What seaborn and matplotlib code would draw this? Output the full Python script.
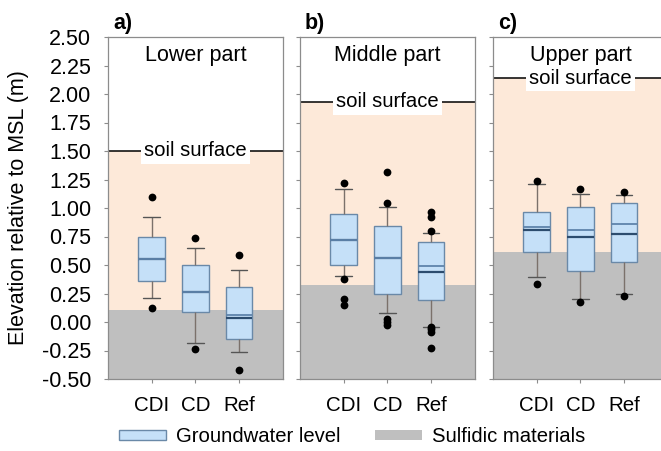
import numpy as np
import pandas as pd
import matplotlib
matplotlib.use("Agg")
import matplotlib.pyplot as plt
import matplotlib.transforms as mtransforms
from matplotlib.patches import Patch
import seaborn as sns

# ---------------- data ----------------
categories = ["CDI", "CD", "Ref"]
panel_labels = ["a)", "b)", "c)"]
panel_titles = ["Lower part", "Middle part", "Upper part"]
soil_surface = [1.50, 1.93, 2.14]
sulfidic_level = [0.105, 0.325, 0.61]

# box statistics per panel: [CDI, CD, Ref]
whisker_low = [[0.21, -0.18, -0.26], [0.405, 0.075, -0.04], [0.395, 0.20, 0.25]]
quartile_1 = [[0.36, 0.085, -0.15], [0.50, 0.245, 0.19], [0.617, 0.45, 0.53]]
median = [[0.555, 0.265, 0.035], [0.72, 0.565, 0.435], [0.805, 0.745, 0.77]]
quartile_3 = [[0.745, 0.50, 0.31], [0.945, 0.84, 0.70], [0.968, 1.005, 1.04]]
whisker_high = [[0.925, 0.645, 0.455], [1.165, 1.01, 0.785], [1.21, 1.125, 1.115]]
mean = [[0.555, 0.265, 0.065], [0.72, 0.565, 0.495], [0.835, 0.81, 0.86]]
outliers = [
    [[1.10, 0.12], [0.74, -0.235], [0.59, -0.425]],
    [[1.215, 0.375, 0.20, 0.15], [1.32, 1.04, 0.03, 0.0, -0.03],
     [0.965, 0.92, 0.80, -0.04, -0.065, -0.09, -0.225]],
    [[1.24, 0.33], [1.167, 0.178], [1.14, 0.228]],
]

y_limits = [-0.5, 2.5]
yticks = [-0.5, -0.25, 0.0, 0.25, 0.5, 0.75, 1.0, 1.25, 1.5, 1.75, 2.0, 2.25, 2.5]
ytick_labels = ["-0.50", "-0.25", "0.00", "0.25", "0.50", "0.75", "1.00",
                "1.25", "1.50", "1.75", "2.00", "2.25", "2.50"]
y_label = "Elevation relative to MSL (m)"
legend_labels = ["Groundwater level", "Sulfidic materials"]

# ---------------- style ----------------
sns.set_style("ticks")
plt.rcParams["font.family"] = ["Liberation Sans", "DejaVu Sans"]
plt.rcParams["text.color"] = "black"

box_fill = "#c5e0f8"
box_edge = "#6a89a8"
median_color = "#2c4c6e"
mean_color = "#5f84ab"
whisker_color = "#7b716b"
cap_color = "#555555"
peach = "#fde9d9"
gray = "#bfbfbf"
spine_color = "#8c8c8c"

W, H = 661, 451
fig = plt.figure(figsize=(W / 100, H / 100), dpi=100)
lefts_px = [108, 300, 493]
ax_w_px = 174.8
ax_bottom = (H - 379) / H
ax_h = 342 / H

box_width = 0.61
cap_width = 0.38

for i in range(3):
    ax = fig.add_axes([lefts_px[i] / W, ax_bottom, ax_w_px / W, ax_h])

    # background zones
    ax.axhspan(y_limits[0], sulfidic_level[i], color=gray, lw=0, zorder=0)
    ax.axhspan(sulfidic_level[i], soil_surface[i], color=peach, lw=0, zorder=0)

    # boxes
    rows = []
    for j, c in enumerate(categories):
        for v in (whisker_low[i][j], quartile_1[i][j], median[i][j],
                  quartile_3[i][j], whisker_high[i][j]):
            rows.append({"site": c, "value": v})
    df_box = pd.DataFrame(rows)
    sns.boxplot(data=df_box, x="site", y="value", order=categories,
                whis=(0, 100), width=box_width, color=box_fill, saturation=1,
                linecolor=box_edge, linewidth=1.0, showfliers=False,
                boxprops=dict(edgecolor=box_edge, linewidth=1.0, zorder=2),
                medianprops=dict(color=median_color, linewidth=1.6, zorder=3),
                whiskerprops=dict(color=whisker_color, linewidth=1.0, zorder=2),
                capprops=dict(color=cap_color, linewidth=1.0, zorder=2),
                ax=ax)

    # widen caps
    for ln in ax.lines:
        xd = np.asarray(ln.get_xdata(), dtype=float)
        yd = np.asarray(ln.get_ydata(), dtype=float)
        if len(xd) == 2 and yd[0] == yd[1]:
            wdt = abs(xd[1] - xd[0])
            if abs(wdt - 0.5 * box_width) < 1e-6:
                cx = xd.mean()
                ln.set_xdata([cx - cap_width / 2, cx + cap_width / 2])

    # mean lines
    pos = np.arange(len(categories))
    ax.hlines(mean[i], pos - box_width / 2, pos + box_width / 2,
              colors=mean_color, linewidth=1.3, zorder=3)

    # outliers
    orow = []
    for j, c in enumerate(categories):
        for v in outliers[i][j]:
            orow.append({"site": c, "value": v})
    df_out = pd.DataFrame(orow)
    sns.stripplot(data=df_out, x="site", y="value", order=categories,
                  jitter=False, color="black", size=5.6, linewidth=0,
                  ax=ax, zorder=4)

    # soil surface line + label
    ax.axhline(soil_surface[i], color="black", lw=1.1, zorder=1.5)
    trans = mtransforms.blended_transform_factory(ax.transAxes, ax.transData)
    ax.text(0.5, soil_surface[i], "soil surface", transform=trans,
            ha="center", va="center", fontsize=14.6, zorder=5,
            bbox=dict(facecolor="white", edgecolor="none", pad=2.2))

    # title and panel label
    ax.text(0.5, 0.945, panel_titles[i], transform=ax.transAxes,
            ha="center", va="center", fontsize=15.5)
    ax.text(5 / ax_w_px, 1 + 14 / 342, panel_labels[i], transform=ax.transAxes,
            ha="left", va="center", fontsize=15.5, fontweight="bold")

    ax.set_xlim(-1, 3)
    ax.set_ylim(*y_limits)
    ax.set_xlabel("")
    ax.set_ylabel("")
    ax.set_yticks(yticks)
    if i == 0:
        ax.set_yticklabels(ytick_labels)
    else:
        ax.set_yticklabels([])
    ax.set_xticks(pos)
    ax.set_xticklabels(categories)
    ax.tick_params(axis="y", direction="out", length=3, width=0.8,
                   color=spine_color, labelcolor="black", labelsize=15.5, pad=9)
    ax.tick_params(axis="x", direction="out", length=3, width=0.8,
                   color=spine_color, labelcolor="black", labelsize=14.8, pad=9)
    for s in ax.spines.values():
        s.set_visible(True)
        s.set_color(spine_color)
        s.set_linewidth(0.9)

fig.text(18.5 / W, 1 - 208 / H, y_label, rotation=90, ha="center",
         va="center", fontsize=15.5, color="black")

handles = [Patch(facecolor=box_fill, edgecolor=box_edge, linewidth=1.0),
           Patch(facecolor=gray, edgecolor="none")]
fig.legend(handles, legend_labels, loc="center", bbox_to_anchor=(352 / W, 1 - 437 / H),
           ncol=2, frameon=False, fontsize=14.6, handlelength=2.3,
           handleheight=0.35, handletextpad=0.5, columnspacing=1.7,
           labelcolor="black")

fig.savefig("out.png", dpi=100)
